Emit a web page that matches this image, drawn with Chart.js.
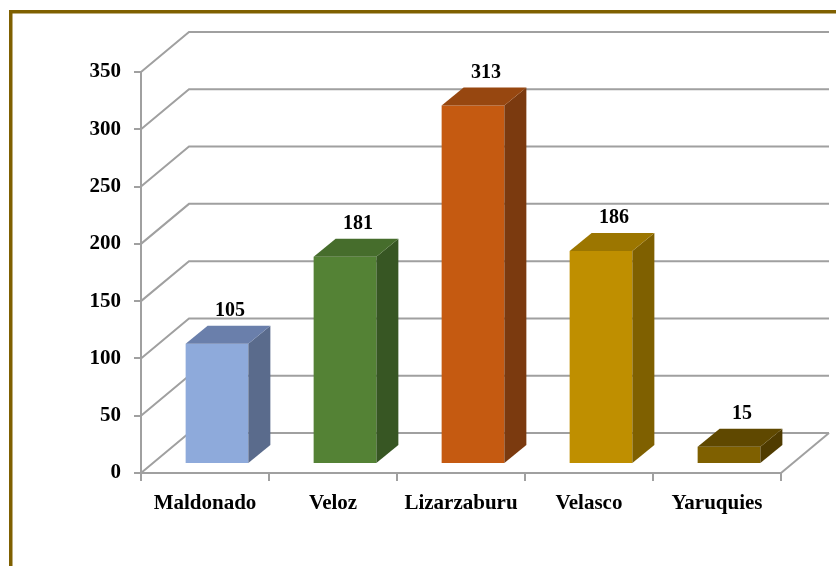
<!DOCTYPE html>
<html>
<head>
<meta charset="utf-8">
<script src="https://cdn.jsdelivr.net/npm/chart.js@4.4.1/dist/chart.umd.min.js"></script>
<style>
  html, body { margin:0; padding:0; background:#fff; }
  #wrap { position:relative; width:836px; height:566px; overflow:hidden; }
</style>
</head>
<body>
<div id="wrap"><canvas id="chart" width="836" height="566"></canvas></div>
<script>
// datos
const categories = ["Maldonado", "Veloz", "Lizarzaburu", "Velasco", "Yaruquies"];
const values = [105, 181, 313, 186, 15];
const yTicks = [0, 50, 100, 150, 200, 250, 300, 350];

// colores: frente, lado, arriba
const frontColors = ["#8eaadb", "#548235", "#c55a11", "#bf8f00", "#7f6000"];
const sideColors  = ["#5a6b8c", "#375623", "#7b3a0f", "#7f6000", "#4f3b00"];
const topColors   = ["#6a7fab", "#466d2c", "#974710", "#9c7600", "#5f4800"];

const FONT = "'Liberation Serif', 'Times New Roman', serif";
const GRID = "#a0a0a0";

// perspectiva
const WALL_DX = 48, WALL_DY = -40;   // pared del fondo
const BAR_SX = 12, BAR_SY = -9;      // desplazamiento de la cara frontal
const DEPTH_DX = 22, DEPTH_DY = -18; // profundidad de la barra

function poly(ctx, pts, fill){
  ctx.beginPath();
  ctx.moveTo(pts[0][0], pts[0][1]);
  for (const p of pts.slice(1)) ctx.lineTo(p[0], p[1]);
  ctx.closePath();
  ctx.fillStyle = fill;
  ctx.fill();
}

const frame3d = {
  id: "frame3d",
  beforeDraw(chart){
    const ctx = chart.ctx;
    ctx.save();
    ctx.fillStyle = "#7f6000";
    ctx.fillRect(9, 10, chart.width - 9, 3.5);
    ctx.fillRect(9, 10, 3.5, chart.height - 10);
    ctx.restore();
  },
  beforeDatasetsDraw(chart){
    const ctx = chart.ctx;
    const a = chart.chartArea;
    const y = chart.scales.y;
    ctx.save();
    ctx.strokeStyle = GRID;
    ctx.lineWidth = 2;
    // lineas de la pared izquierda y del fondo
    for (const v of yTicks){
      const py = y.getPixelForValue(v);
      ctx.beginPath();
      ctx.moveTo(a.left, py);
      ctx.lineTo(a.left + WALL_DX, py + WALL_DY);
      ctx.lineTo(a.right + WALL_DX, py + WALL_DY);
      ctx.stroke();
    }
    // borde derecho del piso
    ctx.beginPath();
    ctx.moveTo(a.right, a.bottom);
    ctx.lineTo(a.right + WALL_DX, a.bottom + WALL_DY);
    ctx.stroke();
    ctx.restore();

    ctx.save();
    ctx.translate(BAR_SX, BAR_SY);
  },
  afterDatasetsDraw(chart){
    const ctx = chart.ctx;
    ctx.restore();
    const meta = chart.getDatasetMeta(0);
    ctx.save();
    meta.data.forEach((bar, i) => {
      const p = bar.getProps(["x", "y", "width", "base"], true);
      const l = p.x - p.width / 2 + BAR_SX;
      const r = p.x + p.width / 2 + BAR_SX;
      const t = p.y + BAR_SY;
      const b = p.base + BAR_SY;
      poly(ctx, [[r, t], [r + DEPTH_DX, t + DEPTH_DY], [r + DEPTH_DX, b + DEPTH_DY], [r, b]], sideColors[i]);
      poly(ctx, [[l, t], [l + DEPTH_DX, t + DEPTH_DY], [r + DEPTH_DX, t + DEPTH_DY], [r, t]], topColors[i]);
      ctx.fillStyle = "#000";
      ctx.font = "bold 20px " + FONT;
      ctx.textAlign = "center";
      ctx.textBaseline = "middle";
      ctx.fillText(String(values[i]), p.x + BAR_SX + 13, t - 33);
    });
    ctx.restore();
  }
};

new Chart(document.getElementById("chart"), {
  type: "bar",
  data: {
    labels: categories,
    datasets: [{
      data: values,
      backgroundColor: frontColors,
      borderWidth: 0,
      categoryPercentage: 1,
      barPercentage: 0.49,
      clip: false
    }]
  },
  options: {
    responsive: false,
    animation: false,
    layout: { padding: { left: 81, right: 55, top: 72, bottom: 33 } },
    plugins: { legend: { display: false }, tooltip: { enabled: false } },
    scales: {
      x: {
        afterFit(s){ s.height = 60; },
        grid: { display: true, drawOnChartArea: false, offset: true, color: GRID, lineWidth: 2, tickLength: 8 },
        border: { display: true, color: GRID, width: 2 },
        ticks: { color: "#000", font: { family: FONT, size: 21, weight: "bold" }, padding: 10, maxRotation: 0 }
      },
      y: {
        min: 0,
        max: 350,
        afterFit(s){ s.width = 60; },
        grid: { display: true, drawOnChartArea: false, color: GRID, lineWidth: 2, tickLength: 7 },
        border: { display: true, color: GRID, width: 2 },
        ticks: { stepSize: 50, color: "#000", font: { family: FONT, size: 21, weight: "bold" }, padding: 13 }
      }
    }
  },
  plugins: [frame3d]
});
</script>
</body>
</html>
